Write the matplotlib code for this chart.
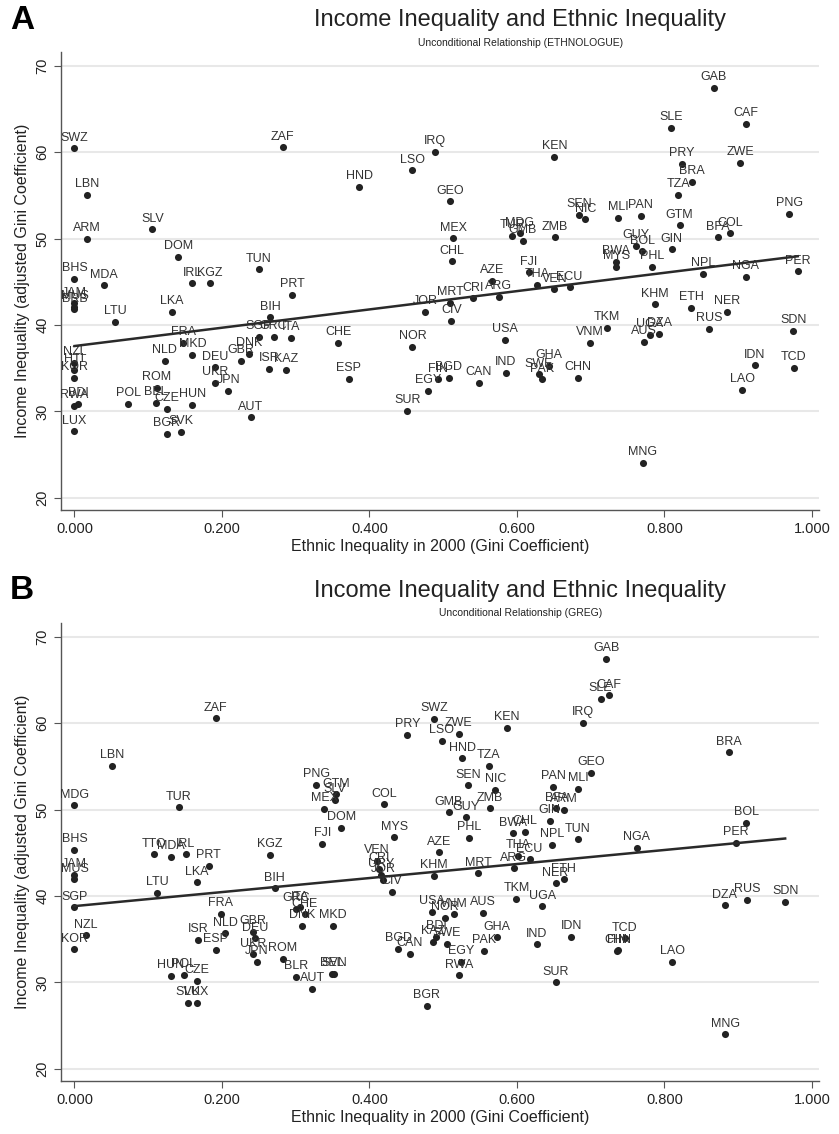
import matplotlib
matplotlib.use("Agg")
import matplotlib.pyplot as plt
import numpy as np

plt.rcParams['font.family'] = ['Liberation Sans', 'DejaVu Sans']

# panel A: ETHNOLOGUE
codes_a = ['SWZ', 'ZAF', 'LBN', 'ARM', 'SLV', 'DOM', 'TUN', 'BHS', 'MDA', 'IRL', 'KGZ', 'PRT',
           'JAM', 'MUS', 'BRB', 'LTU', 'LKA', 'BIH', 'SGP', 'GRC', 'ITA', 'FRA', 'MKD', 'NLD',
           'DNK', 'GBR', 'DEU', 'ISR', 'KAZ', 'NZL', 'HTI', 'KOR', 'UKR', 'JPN', 'ROM', 'BEL',
           'POL', 'CZE', 'HUN', 'RWA', 'BDI', 'AUT', 'LUX', 'BGR', 'SVK', 'IRQ', 'LSO', 'HND',
           'GEO', 'MEX', 'CHL', 'KEN', 'TUR', 'MDG', 'GMB', 'ZMB', 'FJI', 'AZE', 'THA', 'MRT',
           'CRI', 'ARG', 'JOR', 'CIV', 'VEN', 'ECU', 'CHE', 'NOR', 'USA', 'ESP', 'FIN', 'BGD',
           'EGY', 'CAN', 'IND', 'SWE', 'PAK', 'GHA', 'SUR', 'GAB', 'SLE', 'CAF', 'PRY', 'ZWE',
           'BRA', 'TZA', 'PNG', 'SEN', 'NIC', 'MLI', 'PAN', 'GTM', 'BFA', 'COL', 'GUY', 'BOL',
           'GIN', 'BWA', 'MYS', 'PHL', 'NPL', 'NGA', 'PER', 'KHM', 'ETH', 'NER', 'RUS', 'SDN',
           'TKM', 'VNM', 'UGA', 'DZA', 'AUS', 'IDN', 'TCD', 'LAO', 'CHN', 'MNG']
x_a = [0.000, 0.2825, 0.017, 0.017, 0.1055, 0.1407, 0.250, 0.000, 0.0404, 0.160, 0.1836, 0.295,
       0.000, 0.000, 0.000, 0.0549, 0.132, 0.2654, 0.250, 0.270, 0.2938, 0.1475, 0.160, 0.1226,
       0.2364, 0.2256, 0.1904, 0.264, 0.287, 0.000, 0.000, 0.000, 0.1904, 0.2084, 0.1114, 0.1104,
       0.0729, 0.1253, 0.160, 0.000, 0.005, 0.239, 0.000, 0.125, 0.1443, 0.4885, 0.4577, 0.386,
       0.5097, 0.5133, 0.512, 0.6507, 0.5937, 0.6037, 0.608, 0.652, 0.6163, 0.5657, 0.627, 0.5097,
       0.5409, 0.5752, 0.4759, 0.5111, 0.6507, 0.6714, 0.3575, 0.4583, 0.5837, 0.372, 0.493, 0.5075,
       0.480, 0.548, 0.5847, 0.6298, 0.634, 0.6434, 0.4515, 0.867, 0.809, 0.910, 0.824, 0.903,
       0.837, 0.8187, 0.9695, 0.684, 0.6927, 0.7369, 0.7676, 0.8205, 0.8729, 0.8886, 0.7618, 0.770,
       0.8096, 0.7337, 0.7347, 0.783, 0.852, 0.910, 0.9808, 0.7875, 0.8363, 0.885, 0.8602, 0.9745,
       0.7225, 0.6985, 0.7802, 0.793, 0.772, 0.9225, 0.9753, 0.9058, 0.6826, 0.7703]
y_a = [60.44, 60.56, 55.03, 49.98, 51.06, 47.86, 46.43, 45.31, 44.58, 44.81, 44.81, 43.46,
       42.5, 42.1, 41.8, 40.33, 41.53, 40.88, 38.63, 38.63, 38.45, 37.94, 36.55, 35.79,
       36.63, 35.86, 35.09, 34.93, 34.78, 35.56, 34.78, 33.82, 33.24, 32.40, 32.73, 31.00,
       30.88, 30.27, 30.73, 30.65, 30.84, 29.30, 27.68, 27.34, 27.60, 60.01, 57.89, 55.96,
       54.30, 50.02, 47.36, 59.43, 50.29, 50.60, 49.71, 50.14, 46.09, 45.08, 44.62, 42.57,
       43.08, 43.23, 41.46, 40.49, 44.12, 44.35, 37.94, 37.48, 38.22, 33.77, 33.70, 33.85,
       32.38, 33.31, 34.40, 34.28, 33.70, 35.24, 30.03, 67.45, 62.79, 63.25, 58.66, 58.74,
       56.57, 55.03, 52.84, 52.76, 52.22, 52.41, 52.64, 51.53, 50.14, 50.60, 49.17, 48.52,
       48.75, 47.28, 46.74, 46.70, 45.89, 45.58, 46.20, 42.38, 41.96, 41.46, 39.53, 39.33,
       39.68, 37.91, 38.87, 38.95, 38.06, 35.32, 35.05, 32.43, 33.85, 24.05]
fit_a = [37.56, 10.6]   # intercept, slope

# panel B: GREG
codes_b = ['ZAF', 'LBN', 'MDG', 'TUR', 'PNG', 'BHS', 'JAM', 'MUS', 'TTO', 'MDA', 'IRL', 'PRT',
           'KGZ', 'LKA', 'LTU', 'BIH', 'SGP', 'GRC', 'ITA', 'CHE', 'DNK', 'NZL', 'KOR', 'FRA',
           'NLD', 'ISR', 'ESP', 'GBR', 'DEU', 'UKR', 'JPN', 'ROM', 'BLR', 'AUT', 'HUN', 'POL',
           'CZE', 'SVK', 'LUX', 'SWZ', 'PRY', 'ZWE', 'LSO', 'KEN', 'HND', 'TZA', 'SEN', 'NIC',
           'GTM', 'SLV', 'MEX', 'COL', 'DOM', 'GMB', 'GUY', 'ZMB', 'PAN', 'BWA', 'CHL', 'FJI',
           'MYS', 'PHL', 'AZE', 'VEN', 'CRI', 'URY', 'JOR', 'CIV', 'KHM', 'MRT', 'ARG', 'THA',
           'ECU', 'NPL', 'TKM', 'UGA', 'USA', 'NOR', 'VNM', 'AUS', 'MKD', 'BGD', 'CAN', 'BDI',
           'KAZ', 'SWE', 'PAK', 'GHA', 'EGY', 'RWA', 'IND', 'SUR', 'BGR', 'SVN', 'BEL', 'GAB',
           'SLE', 'CAF', 'IRQ', 'BRA', 'GEO', 'MLI', 'BFA', 'ARM', 'GIN', 'BOL', 'TUN', 'NGA',
           'PER', 'ETH', 'NER', 'DZA', 'RUS', 'SDN', 'IDN', 'TCD', 'CHN', 'FIN', 'LAO', 'MNG']
x_b = [0.1917, 0.0508, 0.000, 0.1412, 0.328, 0.000, 0.000, 0.000, 0.1073, 0.1312, 0.1511, 0.1822,
       0.2653, 0.1664, 0.1122, 0.2717, 0.000, 0.301, 0.3056, 0.3123, 0.309, 0.0156, 0.000, 0.1985,
       0.2044, 0.1678, 0.1913, 0.2423, 0.2446, 0.2423, 0.2477, 0.2821, 0.301, 0.3222, 0.1308, 0.1484,
       0.1664, 0.1534, 0.1656, 0.4876, 0.4515, 0.521, 0.498, 0.586, 0.5255, 0.5617, 0.5336, 0.5707,
       0.3543, 0.3526, 0.3385, 0.4194, 0.362, 0.5075, 0.5314, 0.563, 0.6493, 0.5946, 0.6104, 0.3363,
       0.4334, 0.5346, 0.4943, 0.4103, 0.413, 0.4162, 0.4184, 0.4306, 0.4876, 0.5472, 0.5955, 0.6014,
       0.6172, 0.6474, 0.5992, 0.6344, 0.4853, 0.5024, 0.5142, 0.5539, 0.3503, 0.4388, 0.4546, 0.4908,
       0.4862, 0.5051, 0.5549, 0.573, 0.5247, 0.521, 0.6271, 0.6524, 0.478, 0.352, 0.3494, 0.7211,
       0.7134, 0.7243, 0.690, 0.8878, 0.7003, 0.6827, 0.6534, 0.6637, 0.6443, 0.9108, 0.6827, 0.7626,
       0.8972, 0.6633, 0.6524, 0.8819, 0.9117, 0.9637, 0.6737, 0.746, 0.7369, 0.735, 0.8105, 0.8824]
y_b = [60.56, 55.07, 50.49, 50.25, 52.84, 45.31, 42.42, 41.92, 44.81, 44.54, 44.81, 43.46,
       44.77, 41.57, 40.37, 40.88, 38.68, 38.52, 38.68, 37.87, 36.52, 35.44, 33.82, 37.91,
       35.67, 34.90, 33.78, 35.86, 35.09, 33.24, 32.35, 32.70, 30.65, 29.26, 30.73, 30.88,
       30.19, 27.60, 27.60, 60.47, 58.62, 58.74, 57.93, 59.47, 55.93, 55.03, 52.80, 52.26,
       51.76, 51.10, 50.06, 50.60, 47.90, 49.68, 49.10, 50.14, 52.64, 47.25, 47.43, 46.04,
       46.78, 46.70, 45.05, 44.07, 43.11, 42.42, 41.84, 40.49, 42.34, 42.62, 43.19, 44.62,
       44.24, 45.89, 39.64, 38.79, 38.17, 37.44, 37.87, 38.02, 36.52, 33.85, 33.27, 35.30,
       34.70, 34.44, 33.62, 35.21, 32.38, 30.81, 34.40, 30.00, 27.29, 31.00, 30.93, 67.45,
       62.79, 63.21, 60.05, 56.62, 54.26, 52.41, 50.14, 49.94, 48.70, 48.47, 46.55, 45.54,
       46.16, 41.92, 41.46, 38.91, 39.53, 39.33, 35.28, 35.09, 33.70, 33.60, 32.35, 23.98]
fit_b = [38.83, 8.12]

panels = [
    ('A', 'Unconditional Relationship (ETHNOLOGUE)', codes_a, x_a, y_a, fit_a),
    ('B', 'Unconditional Relationship (GREG)', codes_b, x_b, y_b, fit_b),
]

fig = plt.figure(figsize=(8.39, 11.34), dpi=100)
boxes = [[0.0727, 0.5503, 0.904, 0.4038], [0.0727, 0.0467, 0.904, 0.4039]]
title_y = [[0.982, 0.962], [0.479, 0.459]]

for i, (letter, sub, codes, xs, ys, fit) in enumerate(panels):
    ax = fig.add_axes(boxes[i])
    ax.set_xlim(-0.0183, 1.0102)
    ax.set_ylim(18.58, 71.6)
    ax.set_yticks([20, 30, 40, 50, 60, 70])
    ax.set_xticks([0, 0.2, 0.4, 0.6, 0.8, 1.0])
    ax.set_xticklabels(['%.3f' % v for v in ax.get_xticks()])
    ax.grid(axis='y', color='#e8e8e8', linewidth=1.5)
    ax.set_axisbelow(True)
    for s in ['top', 'right']:
        ax.spines[s].set_visible(False)
    for s in ['left', 'bottom']:
        ax.spines[s].set_color('#555555')
        ax.spines[s].set_linewidth(1.0)
    ax.tick_params(axis='both', colors='#555555', labelcolor='#222222', labelsize=10.5, length=5)
    for lab in ax.get_yticklabels():
        lab.set_rotation(90)
        lab.set_va('center')

    ax.scatter(xs, ys, s=26, color='#222222', zorder=3, linewidths=0)
    for c, xv, yv in zip(codes, xs, ys):
        ax.annotate(c, (xv, yv), xytext=(0, 3.5), textcoords='offset points',
                    ha='center', va='bottom', fontsize=9, color='#333333')

    xl = np.array([min(xs), max(xs)])
    ax.plot(xl, fit[0] + fit[1] * xl, color='#2a2a2a', linewidth=1.8, zorder=4)

    ax.set_xlabel('Ethnic Inequality in 2000 (Gini Coefficient)', fontsize=11.5, color='#222222', labelpad=2)
    ax.set_ylabel('Income Inequality (adjusted Gini Coefficient)', fontsize=11.5, color='#222222', labelpad=4)

    fig.text(0.62, title_y[i][0], 'Income Inequality and Ethnic Inequality', ha='center', va='center',
             fontsize=17, color='#222222')
    fig.text(0.62, title_y[i][1], sub, ha='center', va='center', fontsize=7.5, color='#222222')
    fig.text(0.012, title_y[i][0], letter, ha='left', va='center', fontsize=24, fontweight='bold')

fig.savefig('out.png', dpi=100)
